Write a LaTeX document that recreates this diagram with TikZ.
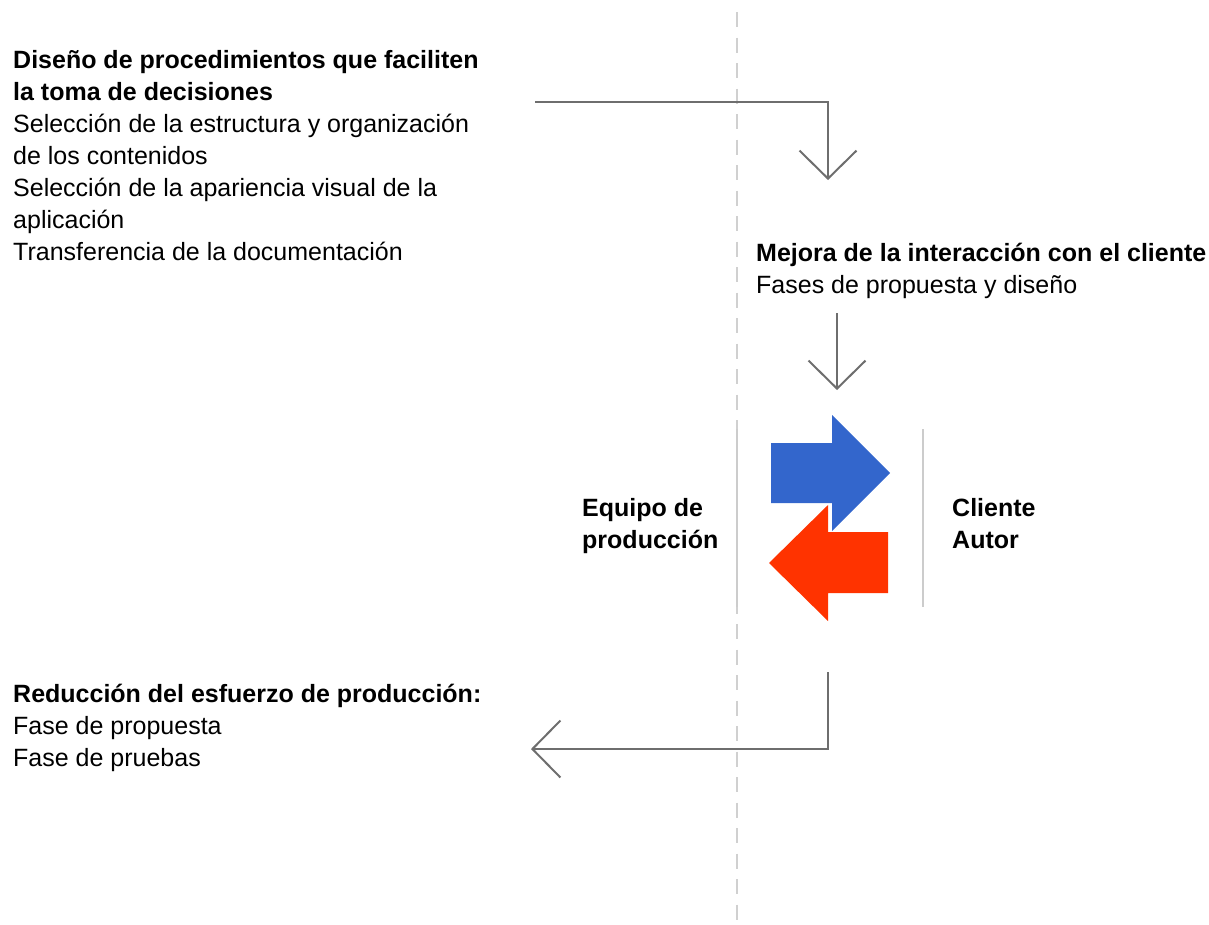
\documentclass[tikz,border=0pt]{standalone}
\usepackage{fontspec}
\setmainfont{Liberation Sans}
\usetikzlibrary{arrows.meta}
\definecolor{arrgray}{HTML}{6E6E6E}
\definecolor{dashgray}{HTML}{D0D0D0}
\definecolor{sepgray}{HTML}{CCCCCC}
\definecolor{myblue}{HTML}{3366CC}
\definecolor{myred}{HTML}{FF3300}
\tikzset{
  txt/.style={anchor=base west, inner sep=0pt, align=left, font=\fontsize{25}{32}\selectfont},
  flow/.style={draw=arrgray, line width=2pt, -{Straight Barb[length=28pt,width=57pt,line width=2pt]}},
  sepline/.style={draw=sepgray, line width=2pt},
}
\begin{document}
\begin{tikzpicture}[x=1pt,y=-1pt]
\useasboundingbox (0,0) rectangle (1209,924);
% dashed divider
\coordinate (dtop) at (737,12);
\coordinate (dbot) at (737,920);
\draw[dashgray, line width=2pt, dash pattern=on 15pt off 10.5pt] (dtop) -- (dbot);
% text blocks (anchor = baseline of last line)
\node[txt] (design) at (13,260) {\textbf{Diseño de procedimientos que faciliten}\\\textbf{la toma de decisiones}\\Selección de la estructura y organización\\de los contenidos\\Selección de la apariencia visual de la\\aplicación\\Transferencia de la documentación};
\node[txt] (mejora) at (756,293) {\textbf{Mejora de la interacción con el cliente}\\Fases de propuesta y diseño};
\node[txt] (equipo) at (582,548) {\textbf{Equipo de}\\\textbf{producción}};
\node[txt] (cliente) at (952,548) {\textbf{Cliente}\\\textbf{Autor}};
\node[txt] (reduccion) at (13,766) {\textbf{Reducción del esfuerzo de producción:}\\Fase de propuesta\\Fase de pruebas};
% separators
\coordinate (s1t) at (737,429); \coordinate (s1b) at (737,607);
\coordinate (s2t) at (923,429); \coordinate (s2b) at (923,607);
\draw[sepline] (s1t) -- (s1b);
\draw[sepline] (s2t) -- (s2b);
% exchange arrows
\fill[myblue] (771,443) -- (832,443) -- (832,415) -- (890,473) -- (832,531) -- (832,503) -- (771,503) -- cycle;
\fill[myred] (888,532) -- (828,532) -- (828,505) -- (769,563) -- (828,621) -- (828,593) -- (888,593) -- cycle;
% flow arrows
\coordinate (a1s) at (535,102); \coordinate (a1e) at (828,180);
\draw[flow] (a1s) -| (a1e);
\coordinate (a2s) at (837,313); \coordinate (a2e) at (837,390);
\draw[flow] (a2s) -- (a2e);
\coordinate (a3s) at (828,672); \coordinate (a3e) at (531,749);
\draw[flow] (a3s) |- (a3e);
\end{tikzpicture}
\end{document}
